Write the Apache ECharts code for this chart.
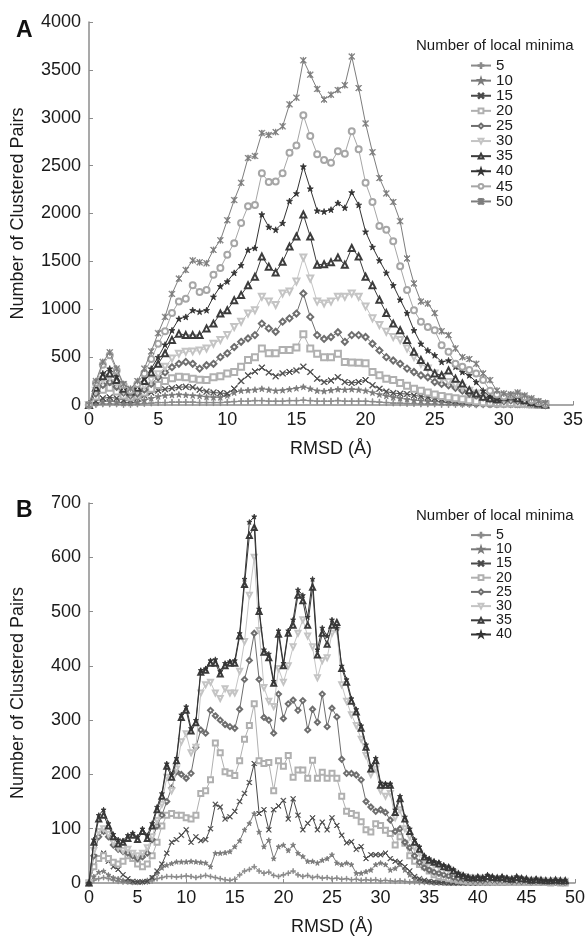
<!DOCTYPE html>
<html>
<head>
<meta charset="utf-8">
<script src="https://cdn.jsdelivr.net/npm/echarts@6/dist/echarts.min.js"></script>
<style>
  html, body { margin: 0; padding: 0; background: #fff; }
  #chart { width: 588px; height: 940px; }
</style>
</head>
<body>
<div id="chart"></div>
<script>
// ---- data ----
// RMSD grid is sampled every 0.5 Å
const rmsdA = Array.from({ length: 67 }, (_, i) => i / 2); // 0 .. 33
const rmsdB = Array.from({ length: 99 }, (_, i) => i / 2); // 0 .. 49

const namesA = ["5", "10", "15", "20", "25", "30", "35", "40", "45", "50"];
const namesB = ["5", "10", "15", "20", "25", "30", "35", "40"];

const xTicksA = [0, 5, 10, 15, 20, 25, 30, 35];
const xTicksB = [0, 5, 10, 15, 20, 25, 30, 35, 40, 45, 50];

// panel A
const a5 = [0,5,10,10,10,5,5,10,15,20, 25,25,30,30,30,30,25,25,25,25, 30,35,40,40,45,45,40,40,40,45,
  45,50,45,40,40,40,45,40,40,40, 40,35,30,25,20,20,15,15,10,10, 10,5,5,5,5,5,0,0,0,0, 0,0,0,0,0,0,0];
const a10 = [0,20,35,40,30,20,20,30,50,70, 90,100,105,110,105,100,95,85,80,80, 100,130,150,155,160,170,160,150,155,165,
  175,190,170,150,145,155,165,160,165,160, 150,130,110,95,80,70,60,50,45,40, 35,30,25,20,15,15,10,10,5,5, 5,5,0,0,0,0,0];
const a15 = [0,40,70,80,70,50,50,70,100,130, 150,165,175,185,190,185,160,140,130,125, 120,170,250,310,350,390,340,300,330,345,
  360,400,345,275,240,255,290,240,230,240, 260,205,170,140,125,118,115,100,90,80, 70,60,50,40,35,30,25,20,15,10, 10,10,5,5,0,0,0];
const a20 = [0,90,160,180,140,100,80,100,130,170, 210,250,280,295,290,275,265,260,290,300, 330,345,400,470,500,590,540,540,575,575,
  600,740,590,535,500,500,535,450,445,440, 435,345,310,275,260,230,200,170,150,130, 110,95,80,70,60,50,40,30,25,20, 15,20,15,10,5,0,0];
const a25 = [0,120,210,240,190,130,100,120,160,220, 290,340,395,430,450,430,380,415,430,500, 540,605,660,695,730,850,800,765,870,905,
  955,1165,920,730,690,710,760,660,730,730, 710,640,570,500,465,430,380,345,310,290, 240,220,205,180,150,120,100,80,60,45, 40,50,40,30,15,5,0];
const a30 = [0,150,260,290,230,150,120,150,200,260, 320,400,485,535,555,560,570,590,640,680, 730,815,870,955,990,1130,1080,1045,1165,1185,
  1290,1540,1320,1080,1060,1080,1130,1130,1165,1130, 1030,905,835,765,710,680,590,500,430,380, 330,275,240,210,180,150,120,90,70,60, 60,70,60,40,25,10,5];
const a35 = [0,180,300,330,260,170,140,180,250,340, 430,540,680,745,730,730,730,800,850,955, 990,1095,1150,1250,1340,1550,1445,1385,1495,1655,
  1760,1990,1760,1465,1470,1490,1540,1465,1640,1550, 1340,1250,1100,960,850,780,680,555,470,400, 330,310,360,275,225,155,120,85,70,60, 80,90,70,50,30,15,5];
const a40 = [0,200,330,380,300,190,150,200,280,380, 500,630,780,900,920,990,975,990,1130,1240, 1290,1380,1460,1620,1640,1990,1860,1830,1900,2130,
  2210,2490,2260,2030,2020,2040,2110,2060,2220,2090, 1810,1650,1510,1380,1250,1100,960,780,640,570, 520,450,465,400,345,310,240,150,85,65, 80,100,85,70,40,20,10];
const a45 = [0,230,420,520,360,210,150,220,330,480, 640,770,960,1080,1110,1250,1180,1200,1360,1430, 1570,1690,1900,2075,2090,2420,2330,2335,2420,2635,
  2710,3025,2810,2620,2560,2530,2650,2625,2860,2670, 2320,2120,1870,1830,1710,1450,1200,990,870,815, 780,625,555,430,400,365,330,260,150,110, 90,100,110,80,50,30,10];
const a50 = [0,250,450,550,380,220,170,250,380,560, 750,920,1160,1320,1410,1510,1490,1480,1620,1720, 1930,2140,2320,2580,2600,2840,2820,2850,2910,3140,
  3210,3600,3450,3300,3190,3240,3290,3340,3640,3310, 2940,2640,2370,2210,2120,1920,1530,1270,1080,1060, 960,770,730,590,500,480,430,330,260,150, 120,110,130,100,70,40,20];

// panel B
const b5 = [0,5,8,10,8,5,3,2,2,1, 1,1,2,4,8,10,12,12,11,12, 13,12,10,12,14,12,10,8,6,5, 7,15,22,25,30,22,18,20,14,12,
  15,18,22,15,12,14,10,12,9,10, 8,9,7,8,6,7,5,6,5,6, 4,5,4,3,4,3,2,2,1,1, 1,0,0,0,0,0,0,0,0,0, 0,0,0,0,0,0,0,0,0,0, 0,0,0,0,0,0,0,0,0];
const b10 = [0,12,20,22,15,10,8,5,3,2, 2,3,5,10,18,28,33,36,39,39, 39,40,39,38,37,30,55,55,56,58, 67,78,98,110,128,94,67,79,45,67,
  70,60,70,55,49,40,40,37,42,45, 52,37,34,37,34,18,18,21,24,34, 37,34,24,27,34,24,15,9,5,3, 2,1,1,0,0,0,0,0,0,0, 0,0,0,0,0,0,0,0,0,0, 0,0,0,0,0,0,0,0,0];
const b15 = [0,30,48,55,40,30,25,15,8,3, 2,2,3,10,22,35,55,75,80,88, 98,75,85,78,80,100,145,140,118,122, 132,150,165,185,220,128,135,98,135,142,
  152,118,155,125,98,110,120,98,112,98, 120,106,88,74,76,62,67,45,52,52, 52,55,45,40,38,30,22,12,8,5, 3,2,1,1,0,0,0,0,0,0, 0,0,0,0,0,0,0,0,0,0, 0,0,0,0,0,0,0,0,0];
const b20 = [0,30,45,50,45,38,35,40,50,45, 35,30,35,50,75,105,125,128,125,125, 120,118,125,165,170,190,258,240,205,202, 198,225,265,290,330,225,220,222,170,225,
  215,235,195,208,208,193,226,193,204,193, 202,193,160,132,128,125,113,98,94,109, 106,97,91,70,85,73,50,40,34,30, 22,15,12,10,8,7,5,4,3,3, 3,2,3,2,2,2,2,1,2,1, 1,1,1,1,1,0,1,0,0];
const b25 = [0,50,85,95,85,70,62,58,55,50, 45,48,55,80,105,125,150,175,205,200, 193,202,250,282,276,318,308,300,292,288, 285,320,375,410,460,375,305,300,276,348,
  303,330,337,318,336,282,320,296,348,288, 322,306,228,202,202,199,190,150,140,132, 135,130,116,95,100,75,65,50,38,28, 24,20,18,15,13,10,8,7,6,5, 5,4,6,5,4,5,4,3,4,3, 3,2,3,2,2,2,2,1,1];
const b30 = [0,60,95,100,90,75,65,60,62,55, 50,55,65,85,115,145,195,170,210,260, 275,240,250,350,365,370,350,340,358,350, 350,390,445,530,600,465,360,335,325,395,
  370,400,435,460,485,455,435,378,410,415, 460,465,365,335,310,290,265,235,200,210, 170,160,165,120,135,100,85,65,55,42, 38,33,30,27,24,20,15,12,10,8, 9,8,10,8,7,8,6,6,8,6, 5,4,5,4,3,3,4,3,3];
const b35 = [0,75,118,125,105,85,72,75,82,88, 80,95,82,105,135,160,215,195,225,305, 318,280,295,388,392,405,405,385,400,405, 405,455,550,640,655,500,425,415,368,458,
  400,460,475,530,520,475,545,420,460,440, 475,480,395,370,335,315,285,250,210,225, 180,180,180,130,155,118,95,75,62,48, 42,38,35,30,28,22,16,13,10,9, 10,9,12,10,9,10,8,7,10,8, 7,5,6,5,4,4,5,4,4];
const b40 = [0,80,125,135,110,90,80,78,88,92, 85,100,88,110,140,165,220,200,230,310, 325,285,300,392,395,410,412,390,405,408, 410,460,560,665,675,505,430,422,372,465,
  405,465,485,540,530,490,560,430,470,455, 485,470,400,375,340,320,290,255,215,230, 185,183,183,135,160,122,100,80,67,50, 45,40,38,33,30,25,18,15,12,10, 12,10,15,12,10,12,10,8,12,10, 8,6,8,6,5,5,6,5,5];

const valuesA = [a5, a10, a15, a20, a25, a30, a35, a40, a45, a50];
const valuesB = [b5, b10, b15, b20, b25, b30, b35, b40];

// ---- styles ----
const plusPath = "path://M4.4,0H5.6V4.4H10V5.6H5.6V10H4.4V5.6H0V4.4H4.4Z";
const crossPath = "path://M0.8,0L5,4.2L9.2,0L10,0.8L5.8,5L10,9.2L9.2,10L5,5.8L0.8,10L0,9.2L4.2,5L0,0.8Z";
const starPath = "path://M5,0L6.2,3.6L10,3.6L6.9,5.9L8.1,9.5L5,7.3L1.9,9.5L3.1,5.9L0,3.6L3.8,3.6Z";
const asteriskPath = "path://M0.8,0L5,4.2L9.2,0L10,0.8L5.8,5L10,9.2L9.2,10L5,5.8L0.8,10L0,9.2L4.2,5L0,0.8ZM4.5,0H5.5V10H4.5Z";

const styles = {
  "5":  { color: "#8a8a8a", symbol: plusPath, rotate: 0 },
  "10": { color: "#7a7a7a", symbol: starPath, rotate: 0 },
  "15": { color: "#4a4a4a", symbol: crossPath, rotate: 0 },
  "20": { color: "#b0b0b0", symbol: "emptyRect", rotate: 0 },
  "25": { color: "#6e6e6e", symbol: "emptyDiamond", rotate: 0 },
  "30": { color: "#c4c4c4", symbol: "emptyTriangle", rotate: 180 },
  "35": { color: "#3c3c3c", symbol: "emptyTriangle", rotate: 0 },
  "40": { color: "#333333", symbol: starPath, rotate: 0 },
  "45": { color: "#a6a6a6", symbol: "emptyCircle", rotate: 0 },
  "50": { color: "#7d7d7d", symbol: asteriskPath, rotate: 0 },
};

function makeSeries(names, xs, values, idx, size) {
  return names.map((name, k) => {
    const st = styles[name];
    return {
      name: name,
      type: "line",
      xAxisIndex: idx,
      yAxisIndex: idx,
      data: xs.map((x, i) => [x, values[k][i]]),
      symbol: st.symbol,
      symbolRotate: st.rotate,
      symbolSize: size,
      showAllSymbol: true,
      lineStyle: { color: st.color, width: 1 },
      itemStyle: { color: st.color, borderColor: st.color, borderWidth: 0.8 },
      emphasis: { disabled: true },
      animation: false,
      z: 2 + k,
    };
  });
}

const font = "Liberation Sans, Arial, sans-serif";
const axisGray = "#8c8c8c";

function xAxis(idx, max) {
  return {
    type: "value",
    gridIndex: idx,
    min: 0,
    max: max,
    interval: 5,
    name: "RMSD (Å)",
    nameLocation: "middle",
    nameGap: 35,
    nameTextStyle: { fontSize: 18, color: "#1a1a1a", fontFamily: font },
    splitLine: { show: false },
    axisLine: { lineStyle: { color: axisGray, width: 1.5 } },
    axisTick: { inside: true, length: 4, lineStyle: { color: axisGray } },
    axisLabel: { fontSize: 18, color: "#1a1a1a", fontFamily: font, margin: 6 },
  };
}

function yAxis(idx, max, interval) {
  return {
    type: "value",
    gridIndex: idx,
    min: 0,
    max: max,
    interval: interval,
    name: "Number of Clustered Pairs",
    nameLocation: "middle",
    nameRotate: 90,
    nameGap: 62,
    nameTextStyle: { fontSize: 18, color: "#1a1a1a", fontFamily: font },
    splitLine: { show: false },
    axisLine: { show: true, lineStyle: { color: axisGray, width: 1.5 } },
    axisTick: { show: true, inside: true, length: 4, lineStyle: { color: axisGray } },
    axisLabel: { fontSize: 18, color: "#1a1a1a", fontFamily: font, margin: 8, formatter: (v) => String(v) },
  };
}

function legend(names, top, lineH) {
  return {
    data: names,
    orient: "vertical",
    left: 465,
    top: top,
    itemWidth: 20,
    itemHeight: 6,
    itemGap: 0,
    selectedMode: false,
    textStyle: { fontSize: lineH, lineHeight: lineH, color: "#1a1a1a", fontFamily: font },
  };
}

const chart = echarts.init(document.getElementById("chart"), null, { renderer: "canvas" });

const option = {
  backgroundColor: "#ffffff",
  animation: false,
  title: [
    { text: "A", left: 11, top: 14, textStyle: { fontSize: 23, fontWeight: "bold", color: "#111", fontFamily: font } },
    { text: "B", left: 11, top: 494, textStyle: { fontSize: 23, fontWeight: "bold", color: "#111", fontFamily: font } },
    { text: "Number of local minima", left: 411, top: 33, textStyle: { fontSize: 15, fontWeight: "normal", color: "#1a1a1a", fontFamily: font } },
    { text: "Number of local minima", left: 411, top: 503, textStyle: { fontSize: 15, fontWeight: "normal", color: "#1a1a1a", fontFamily: font } },
  ],
  legend: [legend(namesA, 53, 15.1), legend(namesB, 523, 14.2)],
  grid: [
    { left: 89, top: 22, width: 484, height: 383 },
    { left: 89, top: 503, width: 486, height: 380 },
  ],
  xAxis: [xAxis(0, xTicksA[xTicksA.length - 1]), xAxis(1, xTicksB[xTicksB.length - 1])],
  yAxis: [yAxis(0, 4000, 500), yAxis(1, 700, 100)],
  series: makeSeries(namesA, rmsdA, valuesA, 0, 6).concat(makeSeries(namesB, rmsdB, valuesB, 1, 5)),
};

chart.setOption(option);
</script>
</body>
</html>
